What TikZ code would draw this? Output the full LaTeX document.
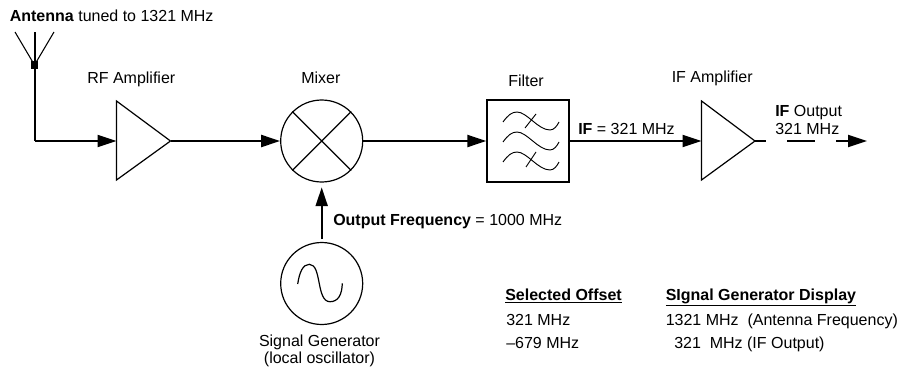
\documentclass[tikz,border=0pt]{standalone}
\usepackage{fontspec}
\setmainfont{Liberation Sans}
\usetikzlibrary{arrows.meta}
\tikzset{
  wire/.style={line width=1.5pt},
  thinline/.style={line width=0.8pt},
  sig/.style={wire,-{Triangle[length=14.2pt,width=9pt]}},
  lab/.style={inner sep=0pt,font=\fontsize{12pt}{14pt}\selectfont,anchor=base west},
  labc/.style={inner sep=0pt,font=\fontsize{12pt}{14pt}\selectfont,anchor=base,align=center},
  amp/.style={line width=0.9pt,line join=miter},
  roundpart/.style={circle,draw,line width=0.9pt,minimum size=61.5pt,inner sep=0pt},
  curve/.style={line width=0.7pt},
}
\begin{document}
\begin{tikzpicture}[x=0.75pt,y=-0.75pt]
\useasboundingbox (0,0) rectangle (897,368);
% antenna
\coordinate (atop) at (34.5,32);
\coordinate (al) at (15,32);
\coordinate (ar) at (54,32);
\node[fill=black,minimum size=5.5pt,inner sep=0pt] (afeed) at (34.5,65) {};
\coordinate (acorner) at (34.5,141);
\draw[thinline] (al) -- (afeed.center) -- (ar);
\draw[wire] (atop) -- (acorner);
% amplifiers
\coordinate (rfin) at (116.5,141);
\coordinate (rfout) at (170.5,141);
\draw[amp] (116.5,101) -- (116.5,180) -- (170.5,141) -- cycle;
\coordinate (ifin) at (701.5,141);
\coordinate (ifout) at (755,141);
\draw[amp] (701.5,101) -- (701.5,180) -- (755,141) -- cycle;
% mixer
\node[roundpart] (mix) at (321.7,141) {};
\draw[amp] (mix.45) -- (mix.225) (mix.135) -- (mix.315);
% filter
\node[draw,line width=1.5pt,minimum size=61pt,inner sep=0pt] (filt) at (528,141) {};
\foreach \yy in {0,20,40}{
  \draw[curve] (503,{122+\yy}) .. controls (508,{115+\yy}) and (512,{112+\yy}) .. (517,{112+\yy})
      .. controls (527,{112+\yy}) and (538,{130+\yy}) .. (550,{130+\yy})
      .. controls (554,{130+\yy}) and (557,{126+\yy}) .. (559,{122+\yy});
}
\coordinate (c1a) at (525,128); \coordinate (c1b) at (536,114);
\coordinate (c2a) at (526,167); \coordinate (c2b) at (536,152);
\draw[curve] (c1a) -- (c1b);
\draw[curve] (c2a) -- (c2b);
% oscillator
\node[roundpart] (osc) at (321.7,283.5) {};
\draw[line width=0.9pt] (297.7,284) .. controls (299.5,272) and (303,264.3) .. (309.3,264.3)
  .. controls (322,264.3) and (316,301.7) .. (330,301.7)
  .. controls (338,301.7) and (342,295) .. (342.3,283.3);
% connectors
\draw[sig] (acorner) -- (rfin);
\draw[sig] (rfout) -- (mix.west);
\draw[sig] (mix.east) -- (filt.west);
\draw[sig] (filt.east) -- (ifin);
\draw[sig,shorten >=3.5pt,shorten <=2pt] (osc.north) -- (mix.south);
\coordinate (o1) at (766,141);
\coordinate (o2) at (787,141);
\coordinate (o3) at (815,141);
\coordinate (o4) at (836,141);
\coordinate (o5) at (867,141);
\draw[wire] (ifout) -- (o1);
\draw[wire] (o2) -- (o3);
\draw[sig] (o4) -- (o5);
% labels
\node[lab] (t1) at (9.5,21.5) {\textbf{Antenna} tuned to 1321 MHz};
\node[lab] (t2) at (87,83.3) {RF Amplifier};
\node[lab] (t3) at (301,83.3) {Mixer};
\node[lab] (t4) at (508,86) {Filter};
\node[lab] (t5) at (671.5,82) {IF Amplifier};
\node[lab] (t6) at (578,134) {\textbf{IF} = 321 MHz};
\node[lab] (t7) at (775,116.7) {\textbf{IF} Output};
\node[lab] (t8) at (775,134.5) {321 MHz};
\node[lab] (t9) at (333,225) {\textbf{Output Frequency} = 1000 MHz};
\node[labc] (t10) at (319.5,346.7) {Signal Generator};
\node[labc] (t11) at (319.5,363) {(local oscillator)};
\node[lab] (t12) at (505,300.5) {\textbf{\underline{Selected Offset}}};
\node[lab] (t13) at (506,325) {321 MHz};
\node[lab] (t14) at (506,348) {--679 MHz};
\node[lab] (t15) at (665.5,300.5) {\textbf{\underline{SIgnal Generator Display}}};
\node[lab] (t16) at (665.5,325) {1321 MHz\ \ (Antenna Frequency)};
\node[lab] (t17) at (674,348) {321\ \ MHz (IF Output)};
\end{tikzpicture}
\end{document}
